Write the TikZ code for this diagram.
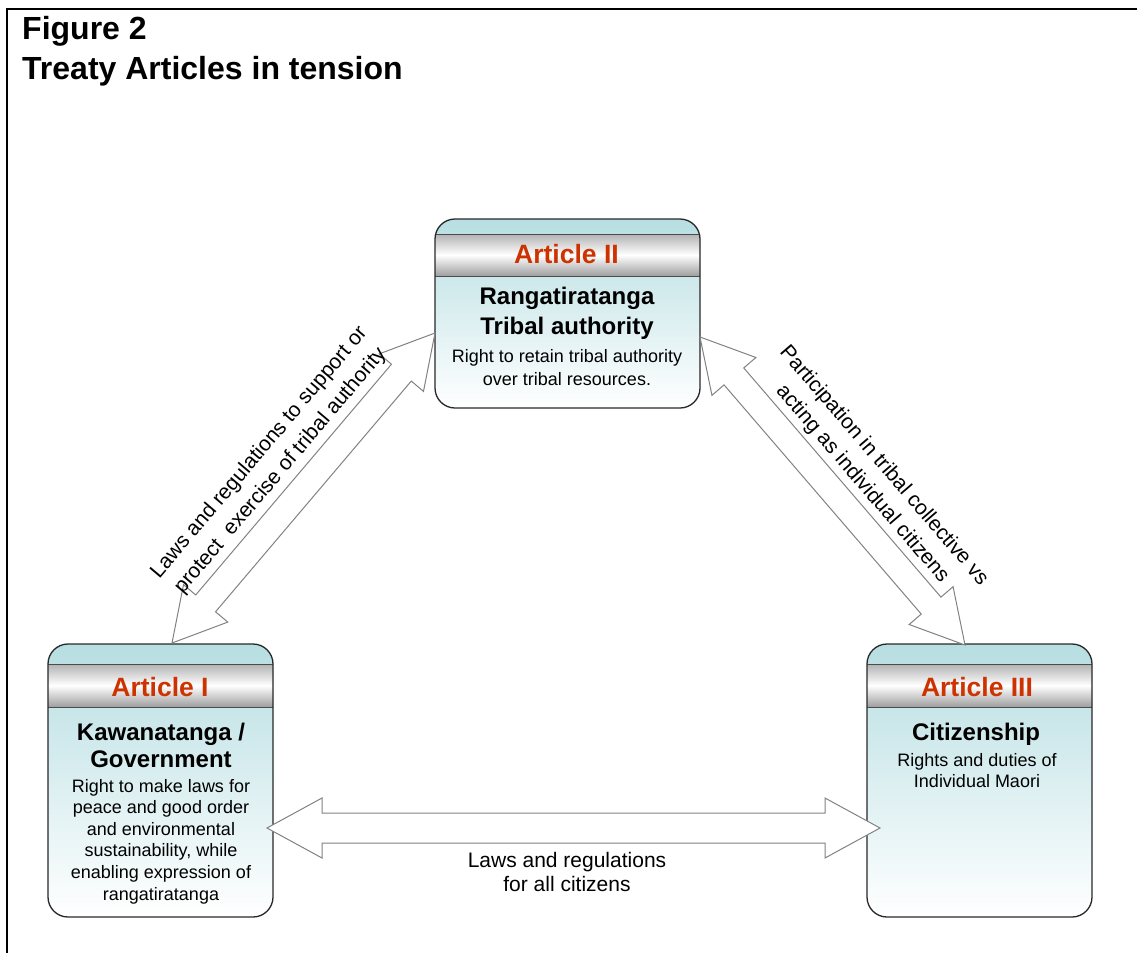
\documentclass[tikz,border=0pt]{standalone}
\usepackage{fontspec}
\setmainfont{Liberation Sans}
\usetikzlibrary{calc}
\definecolor{teal1}{RGB}{183,222,226}
\definecolor{artred}{RGB}{204,51,0}
\definecolor{arrgray}{RGB}{130,130,130}
\definecolor{boxline}{RGB}{40,40,40}
\tikzset{
 artbox/.style={rectangle, rounded corners=20pt, top color=teal1, bottom color=white, inner sep=0pt, outer sep=0pt},
 boxedge/.style={draw=boxline, line width=1.3pt, rounded corners=20pt},
 hdr/.style={rectangle, inner sep=0pt, outer sep=0pt, top color=black!30, bottom color=black!38, middle color=white},
 hdrline/.style={draw=black!70, line width=1pt},
 arttitle/.style={font=\fontsize{26.5}{30}\selectfont\bfseries, text=artred, anchor=base, inner sep=0pt},
 headtxt/.style={font=\fontsize{24}{28}\selectfont\bfseries, anchor=base, inner sep=0pt},
 bodytxt/.style={font=\fontsize{18}{22}\selectfont, anchor=base, inner sep=0pt},
 lbl/.style={font=\fontsize{21}{28}\selectfont, align=center, inner sep=0pt},
 blbl/.style={font=\fontsize{21}{24}\selectfont, anchor=base, inner sep=0pt},
 blockarrow/.style={draw=arrgray, line width=1pt, fill=white, line join=miter},
 titletxt/.style={font=\fontsize{32}{38}\selectfont\bfseries, anchor=base west, inner sep=0pt},
}
% #1 start, #2 end, #3 head length, #4 head half width, #5 shaft half width
\newcommand\blockarr[5]{%
 \path ($(#1)!#3!(#2)$) coordinate (hA) ($(#2)!#3!(#1)$) coordinate (hB);
 \draw[blockarrow] (#1) -- ($(hA)!#4!90:(#2)$) -- ($(hA)!#5!90:(#2)$)
   -- ($(hB)!#5!-90:(#1)$) -- ($(hB)!#4!-90:(#1)$) -- (#2)
   -- ($(hB)!#4!90:(#1)$) -- ($(hB)!#5!90:(#1)$)
   -- ($(hA)!#5!-90:(#2)$) -- ($(hA)!#4!-90:(#2)$) -- cycle;
}
\begin{document}
\begin{tikzpicture}[x=1pt,y=-1pt]
\useasboundingbox (0,0) rectangle (1137,953);
% frame
\draw[line width=2pt] (7,953) -- (7,9) -- (1137,9);
% title
\node[titletxt] (ttl1) at (22,39) {Figure 2};
\node[titletxt] (ttl2) at (22,79) {Treaty Articles in tension};

% boxes
\node[artbox, minimum width=265, minimum height=189] (a2) at (567.5,313.5) {};
\node[artbox, minimum width=225, minimum height=273] (a1) at (160.5,780.5) {};
\node[artbox, minimum width=225, minimum height=273] (a3) at (979.5,780.5) {};
% headers
\node[hdr, minimum width=265, minimum height=42, anchor=north west] (h2) at (a2.north west |- 0,234) {};
\node[hdr, minimum width=225, minimum height=43, anchor=north west] (h1) at (a1.north west |- 0,664) {};
\node[hdr, minimum width=225, minimum height=43, anchor=north west] (h3) at (a3.north west |- 0,664) {};
\foreach \h in {h1,h2,h3}{
  \draw[hdrline] (\h.north west) -- (\h.north east) (\h.south west) -- (\h.south east);
}
\foreach \b in {a1,a2,a3}{
  \draw[boxedge] (\b.south west) rectangle (\b.north east);
}

% Article II text
\node[arttitle] (t2) at (566.5,263) {Article II};
\foreach \t [count=\i] in {Rangatiratanga, Tribal authority}
  \node[headtxt] (k2l\i) at (567, {304+(\i-1)*30}) {\t};
\foreach \t [count=\i] in {Right to retain tribal authority, over tribal resources.}
  \node[bodytxt] (b2l\i) at (567, {362+(\i-1)*23}) {\t};

% Article I text
\node[arttitle] (t1) at (160,696) {Article I};
\foreach \t [count=\i] in {Kawanatanga /, Government}
  \node[headtxt] (k1l\i) at (161, {740+(\i-1)*27}) {\t};
\foreach \t [count=\i] in {Right to make laws for, peace and good order, and environmental, {sustainability, while}, enabling expression of, rangatiratanga}
  \node[bodytxt] (b1l\i) at (161, {792+(\i-1)*21.6}) {\t};

% Article III text
\node[arttitle] (t3) at (977,696) {Article III};
\node[headtxt] (k3l1) at (976,740) {Citizenship};
\foreach \t [count=\i] in {Rights and duties of, Individual Maori}
  \node[bodytxt] (b3l\i) at (977, {766+(\i-1)*21.5}) {\t};

% arrow end points
\coordinate (p1) at ($(a1.east)+(-6,47.5)$);
\coordinate (p3) at ($(a3.west)+(13,47.5)$);
\coordinate (q1) at ($(a1.north)+(11.5,-1)$);
\coordinate (q2) at ($(a2.west)+(0,19.5)$);
\coordinate (r2) at ($(a2.east)+(0,23.5)$);
\coordinate (r3) at ($(a3.north)+(-14.5,1)$);

\blockarr{p1}{p3}{55pt}{30pt}{15pt}
\blockarr{q1}{q2}{52pt}{29pt}{13pt}
\blockarr{r2}{r3}{52pt}{29pt}{13pt}

% labels
\node[lbl, rotate=49.7] (l12) at (270,462) {Laws and regulations to support or\\protect\ \ exercise of tribal authority};
\node[lbl, rotate=-49.3] (l23) at (873,475) {Participation in tribal collective vs\\acting as individual citizens};
\node[blbl] (l13a) at (567,867) {Laws and regulations};
\node[blbl] (l13b) at (567,891) {for all citizens};
\end{tikzpicture}
\end{document}
